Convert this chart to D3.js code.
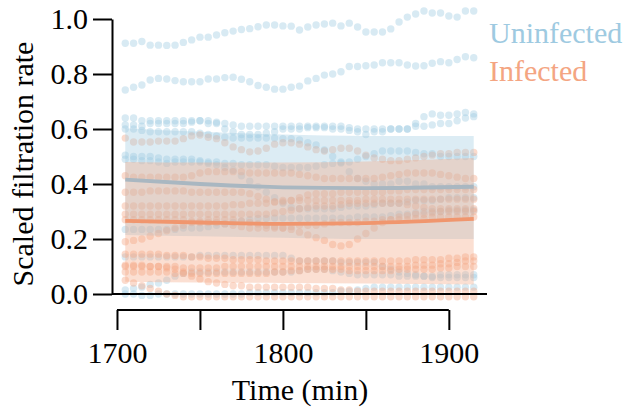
<!DOCTYPE html>
<html>
<head>
<meta charset="utf-8">
<script src="https://cdn.jsdelivr.net/npm/d3@7"></script>
<style>
  body { margin: 0; background: #fff; }
  text { font-family: "Liberation Serif", "Times New Roman", serif; }
</style>
</head>
<body>
<div id="chart"></div>
<script>
// sampling times (min)
var times = [1705,1710,1715,1720,1725,1730,1735,1740,1745,1750,1755,1760,1765,1770,1775,1780,1785,1790,1795,1800,
             1805,1810,1815,1820,1825,1830,1835,1840,1845,1850,1855,1860,1865,1870,1875,1880,1885,1890,1895,1900,
             1905,1910,1915];

// individual animals, uninfected
var uninfected = [
  [0.912,0.912,0.918,0.905,0.905,0.904,0.905,0.915,0.924,0.934,0.934,0.942,0.950,0.956,0.962,0.965,0.972,0.978,0.978,0.975,
   0.974,0.96,0.971,0.978,0.982,0.985,0.975,0.985,0.971,0.953,0.953,0.953,0.964,0.989,1.007,1.018,1.029,1.022,1.022,1.011,
   1.007,1.029,1.029],
  [0.742,0.752,0.760,0.778,0.784,0.782,0.776,0.772,0.772,0.772,0.782,0.782,0.787,0.788,0.781,0.772,0.758,0.752,0.745,0.745,
   0.752,0.756,0.775,0.784,0.796,0.800,0.808,0.827,0.827,0.830,0.833,0.841,0.841,0.841,0.833,0.829,0.830,0.839,0.845,0.841,
   0.853,0.863,0.859],
  [0.64,0.64,0.63,0.63,0.63,0.63,0.63,0.63,0.63,0.63,0.62,0.62,0.60,0.59,0.58,0.58,0.58,0.585,0.59,0.60,
   0.60,0.60,0.605,0.605,0.605,0.60,0.60,0.595,0.59,0.58,0.59,0.59,0.60,0.60,0.60,0.62,0.645,0.655,0.65,0.65,
   0.655,0.66,0.655],
  [0.615,0.615,0.61,0.62,0.62,0.62,0.62,0.62,0.625,0.63,0.63,0.625,0.62,0.615,0.61,0.61,0.61,0.61,0.61,0.61,
   0.61,0.61,0.61,0.61,0.61,0.61,0.61,0.605,0.60,0.60,0.60,0.60,0.60,0.60,0.60,0.61,0.61,0.615,0.62,0.62,
   0.63,0.64,0.645],
  [0.60,0.60,0.595,0.59,0.59,0.59,0.59,0.59,0.59,0.585,0.58,0.575,0.57,0.567,0.567,0.567,0.567,0.567,0.567,0.565,
   0.565,0.56,0.55,0.542,0.524,0.50,0.476,0.445,0.42,0.41,0.40,0.40,0.40,0.41,0.41,0.40,0.40,0.39,0.39,0.39,
   0.39,0.39,0.39],
  [0.505,0.50,0.50,0.50,0.495,0.49,0.49,0.49,0.49,0.485,0.48,0.48,0.475,0.475,0.47,0.47,0.47,0.47,0.465,0.46,
   0.46,0.46,0.46,0.465,0.47,0.475,0.48,0.48,0.49,0.50,0.51,0.52,0.52,0.52,0.52,0.515,0.51,0.51,0.50,0.50,
   0.50,0.50,0.50],
  [0.49,0.49,0.485,0.485,0.48,0.475,0.48,0.48,0.48,0.48,0.475,0.47,0.46,0.45,0.43,0.41,0.39,0.37,0.35,0.33,
   0.315,0.31,0.31,0.31,0.31,0.31,0.315,0.32,0.32,0.32,0.325,0.33,0.33,0.33,0.335,0.34,0.34,0.34,0.345,0.35,
   0.35,0.35,0.35],
  [0.235,0.235,0.235,0.235,0.235,0.235,0.235,0.24,0.24,0.24,0.245,0.25,0.255,0.26,0.265,0.27,0.275,0.275,0.276,0.276,
   0.276,0.276,0.276,0.276,0.276,0.276,0.276,0.276,0.28,0.28,0.28,0.28,0.285,0.29,0.29,0.295,0.30,0.30,0.30,0.305,
   0.305,0.305,0.305],
  [0.135,0.135,0.135,0.135,0.135,0.135,0.135,0.135,0.135,0.14,0.14,0.14,0.14,0.14,0.14,0.14,0.14,0.14,0.14,0.14,
   0.13,0.12,0.12,0.12,0.12,0.12,0.115,0.115,0.115,0.115,0.115,0.10,0.09,0.08,0.075,0.07,0.065,0.06,0.06,0.06,
   0.06,0.06,0.06],
  [0.015,0.02,0.025,0.035,0.04,0.05,0.065,0.075,0.08,0.08,0.08,0.08,0.08,0.08,0.08,0.08,0.08,0.08,0.08,0.08,
   0.08,0.085,0.09,0.09,0.09,0.085,0.08,0.075,0.07,0.07,0.07,0.07,0.07,0.065,0.065,0.065,0.065,0.065,0.07,0.07,
   0.07,0.07,0.07],
  [0.0,0.0,-0.005,-0.005,0.0,0.0,0.0,0.0,0.0,0.0,0.0,0.0,0.0,0.0,0.0,0.005,0.005,0.005,0.005,0.005,
   0.005,0.005,0.005,0.005,0.005,0.005,0.01,0.01,0.015,0.02,0.025,0.025,0.025,0.025,0.025,0.025,0.025,0.025,0.025,0.025,
   0.025,0.025,0.025]
];

// individual animals, infected
var infected = [
  [0.567,0.553,0.553,0.553,0.556,0.556,0.556,0.565,0.575,0.578,0.57,0.565,0.55,0.535,0.525,0.517,0.52,0.53,0.545,0.55,
   0.55,0.545,0.535,0.525,0.52,0.525,0.53,0.53,0.52,0.505,0.495,0.49,0.485,0.485,0.49,0.495,0.50,0.505,0.51,0.51,
   0.515,0.515,0.515],
  [0.43,0.425,0.425,0.425,0.425,0.425,0.425,0.425,0.43,0.44,0.445,0.445,0.445,0.445,0.445,0.44,0.44,0.44,0.44,0.44,
   0.44,0.435,0.43,0.425,0.42,0.42,0.42,0.42,0.42,0.42,0.42,0.425,0.43,0.435,0.44,0.44,0.44,0.44,0.435,0.43,
   0.425,0.42,0.42],
  [0.37,0.37,0.37,0.375,0.375,0.375,0.375,0.375,0.37,0.37,0.37,0.37,0.37,0.37,0.37,0.365,0.355,0.345,0.335,0.335,
   0.34,0.35,0.36,0.365,0.365,0.365,0.37,0.37,0.37,0.37,0.37,0.37,0.375,0.375,0.38,0.38,0.38,0.38,0.38,0.38,
   0.38,0.38,0.38],
  [0.32,0.32,0.32,0.32,0.32,0.32,0.32,0.32,0.32,0.32,0.32,0.32,0.32,0.325,0.325,0.33,0.33,0.33,0.335,0.34,
   0.34,0.34,0.34,0.34,0.34,0.34,0.34,0.34,0.34,0.345,0.345,0.345,0.345,0.345,0.345,0.345,0.345,0.345,0.345,0.345,
   0.345,0.345,0.345],
  [0.29,0.29,0.29,0.29,0.29,0.29,0.29,0.29,0.29,0.29,0.29,0.29,0.29,0.29,0.29,0.29,0.29,0.29,0.295,0.30,
   0.305,0.31,0.315,0.32,0.32,0.32,0.325,0.33,0.33,0.33,0.33,0.33,0.33,0.33,0.325,0.32,0.315,0.31,0.31,0.31,
   0.31,0.31,0.31],
  [0.27,0.27,0.27,0.27,0.27,0.27,0.27,0.27,0.265,0.26,0.26,0.26,0.255,0.25,0.245,0.24,0.24,0.24,0.24,0.24,
   0.245,0.25,0.25,0.25,0.255,0.26,0.26,0.26,0.26,0.265,0.265,0.27,0.27,0.27,0.27,0.275,0.275,0.28,0.28,0.28,
   0.28,0.28,0.28],
  [0.19,0.195,0.20,0.21,0.22,0.23,0.24,0.25,0.26,0.265,0.27,0.27,0.27,0.27,0.265,0.26,0.255,0.25,0.245,0.24,
   0.235,0.225,0.215,0.205,0.195,0.18,0.175,0.18,0.20,0.22,0.24,0.26,0.27,0.28,0.285,0.29,0.29,0.295,0.30,0.30,
   0.30,0.30,0.30],
  [0.145,0.145,0.145,0.145,0.145,0.14,0.14,0.14,0.135,0.135,0.13,0.13,0.13,0.125,0.125,0.125,0.125,0.12,0.12,0.12,
   0.12,0.12,0.12,0.12,0.12,0.12,0.12,0.12,0.12,0.12,0.12,0.12,0.12,0.12,0.12,0.125,0.125,0.125,0.125,0.13,
   0.13,0.135,0.135],
  [0.10,0.10,0.10,0.10,0.10,0.10,0.10,0.095,0.095,0.095,0.095,0.095,0.10,0.10,0.10,0.10,0.10,0.10,0.10,0.10,
   0.10,0.10,0.10,0.10,0.10,0.10,0.10,0.10,0.10,0.10,0.10,0.10,0.10,0.10,0.10,0.105,0.105,0.105,0.11,0.11,
   0.115,0.12,0.12],
  [0.08,0.08,0.08,0.08,0.08,0.08,0.075,0.075,0.075,0.075,0.075,0.075,0.075,0.075,0.075,0.075,0.075,0.075,0.08,0.08,
   0.085,0.085,0.09,0.09,0.09,0.09,0.09,0.085,0.085,0.085,0.085,0.085,0.085,0.09,0.09,0.09,0.09,0.09,0.095,0.095,
   0.10,0.10,0.10],
  [0.105,0.105,0.105,0.10,0.10,0.095,0.09,0.08,0.065,0.055,0.045,0.04,0.035,0.03,0.03,0.025,0.025,0.025,0.025,0.025,
   0.025,0.025,0.025,0.02,0.02,0.02,0.015,0.015,0.01,0.01,0.01,0.01,0.01,0.01,0.01,0.01,0.01,0.01,0.01,0.01,
   0.01,0.01,0.01],
  [0.05,0.04,0.03,0.02,0.01,0.0,-0.005,-0.01,-0.01,-0.01,-0.01,-0.01,-0.01,-0.01,-0.01,-0.01,-0.01,-0.01,-0.01,-0.01,
   -0.01,-0.01,-0.01,-0.01,-0.01,-0.01,-0.01,-0.01,-0.01,-0.01,-0.01,-0.01,-0.01,-0.01,-0.01,-0.01,-0.01,-0.01,-0.01,-0.01,
   -0.01,-0.01,-0.01]
];

// fitted group mean and interval
var fitTimes = [1705, 1750, 1800, 1850, 1915];
var uMean = [0.416, 0.400, 0.388, 0.385, 0.390];
var uLow  = [0.215, 0.210, 0.205, 0.200, 0.200];
var uHigh = [0.603, 0.590, 0.580, 0.575, 0.575];
var iMean = [0.266, 0.260, 0.255, 0.258, 0.273];
var iLow  = [0.045, 0.042, 0.040, 0.038, 0.035];
var iHigh = [0.480, 0.478, 0.478, 0.482, 0.495];

var xTicks = [1700, 1750, 1800, 1850, 1900];
var xLabels = [1700, 1800, 1900];
var yTicks = [0, 0.2, 0.4, 0.6, 0.8, 1.0];
var groups = ["Uninfected", "Infected"];

var blue = "#9ecae1", orange = "#f4a582";

var svg = d3.select("#chart")
    .append("svg")
      .attr("width", 627)
      .attr("height", 412);

var x = d3.scaleLinear().domain([1697, 1923]).range([112, 487]);
var y = d3.scaleLinear().domain([0, 1]).range([294, 19]);

// individual dots
function drawDots(series, color) {
    series.forEach(function(s) {
        svg.append("g")
          .selectAll("circle")
          .data(s)
          .enter()
          .append("circle")
            .attr("cx", function(d, i) { return x(times[i]); })
            .attr("cy", function(d) { return y(d); })
            .attr("r", 3.7)
            .attr("fill", color)
            .attr("fill-opacity", 0.4);
    });
}
drawDots(uninfected, blue);
drawDots(infected, orange);

// confidence bands
function band(low, high, color) {
    var area = d3.area()
        .x(function(d, i) { return x(fitTimes[i]); })
        .y0(function(d, i) { return y(low[i]); })
        .y1(function(d, i) { return y(high[i]); })
        .curve(d3.curveMonotoneX);
    svg.append("path")
        .datum(low)
        .attr("d", area)
        .attr("fill", color)
        .attr("fill-opacity", 0.36);
}
band(uLow, uHigh, blue);
band(iLow, iHigh, orange);

// mean lines
function meanLine(vals, color) {
    svg.append("path")
        .datum(vals)
        .attr("fill", "none")
        .attr("stroke", color)
        .attr("stroke-width", 3.8)
        .attr("d", d3.line()
            .x(function(d, i) { return x(fitTimes[i]); })
            .y(function(d) { return y(d); })
            .curve(d3.curveMonotoneX));
}
meanLine(uMean, "#a9b7c1");
meanLine(iMean, "#f0966e");

// zero line
svg.append("line")
    .attr("x1", x(1697)).attr("x2", x(1923))
    .attr("y1", y(0)).attr("y2", y(0))
    .attr("stroke", "#000").attr("stroke-width", 2);

// y axis
var yAxis = svg.append("g")
    .attr("transform", "translate(" + x(1697) + ",0)")
    .call(d3.axisLeft(y).tickValues(yTicks).tickFormat(d3.format(".1f")).tickSize(19).tickSizeOuter(0).tickPadding(5));
yAxis.select(".domain").attr("stroke-width", 2);
yAxis.selectAll(".tick line").attr("stroke-width", 2);
yAxis.selectAll(".tick text")
    .attr("font-size", 30)
    .attr("font-family", "Liberation Serif, serif")
    .attr("fill", "#000");

// x axis (offset)
var xAxis = svg.append("g")
    .attr("transform", "translate(0,310)")
    .call(d3.axisBottom(x).tickValues(xTicks)
        .tickFormat(function(d) { return xLabels.indexOf(d) >= 0 ? d : ""; })
        .tickSize(20).tickPadding(12));
xAxis.select(".domain").remove();
xAxis.append("line")
    .attr("x1", x(xTicks[0])).attr("x2", x(xTicks[xTicks.length - 1]))
    .attr("stroke", "#000").attr("stroke-width", 2);
xAxis.selectAll(".tick line").attr("stroke-width", 2);
xAxis.selectAll(".tick text")
    .attr("font-size", 30)
    .attr("font-family", "Liberation Serif, serif")
    .attr("fill", "#000");

// axis titles
svg.append("text")
    .attr("x", 300).attr("y", 400)
    .attr("text-anchor", "middle")
    .attr("font-size", 30)
    .text("Time (min)");
svg.append("text")
    .attr("transform", "translate(33,164) rotate(-90)")
    .attr("text-anchor", "middle")
    .attr("font-size", 30)
    .text("Scaled filtration rate");

// legend
svg.selectAll(".legend")
    .data(groups)
    .enter()
    .append("text")
      .attr("x", 489)
      .attr("y", function(d, i) { return 43 + i * 38; })
      .attr("font-size", 30)
      .attr("fill", function(d, i) { return i == 0 ? blue : orange; })
      .text(function(d) { return d; });
</script>
</body>
</html>
